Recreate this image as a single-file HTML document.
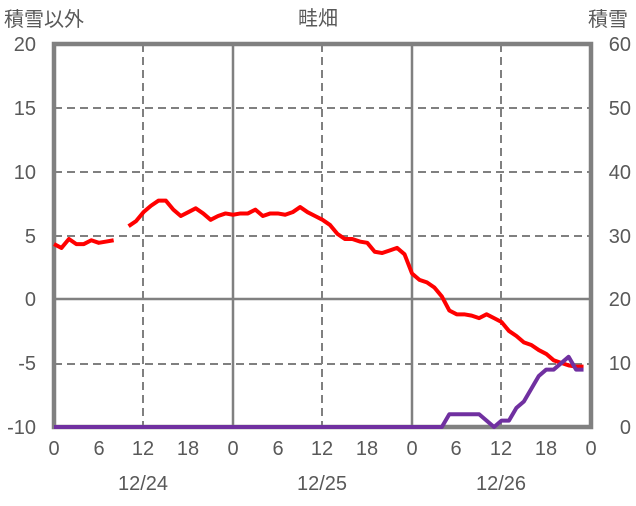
<!DOCTYPE html><html><head><meta charset="utf-8"><style>
body{margin:0;background:#fff;}
text{font-family:"Liberation Sans","Noto Sans CJK JP",sans-serif;fill:#595959;font-size:20px;}
</style></head><body>
<svg id="s" width="636" height="501" xmlns="http://www.w3.org/2000/svg">
<g stroke="#808080" stroke-width="2" stroke-dasharray="8,5">
<line x1="54" y1="108" x2="591" y2="108"/><line x1="54" y1="172" x2="591" y2="172"/>
<line x1="54" y1="236" x2="591" y2="236"/><line x1="54" y1="364" x2="591" y2="364"/>
<line x1="143" y1="44" x2="143" y2="427"/><line x1="322" y1="44" x2="322" y2="427"/><line x1="501" y1="44" x2="501" y2="427"/>
</g>
<g stroke="#808080" stroke-width="2.5">
<line x1="54" y1="299" x2="591" y2="299"/>
<line x1="233" y1="44" x2="233" y2="427"/><line x1="412" y1="44" x2="412" y2="427"/>
</g>
<rect x="54" y="44" width="537" height="383" fill="none" stroke="#808080" stroke-width="4.5"/>
<g text-anchor="end">
<text x="36" y="51">20</text><text x="36" y="115">15</text><text x="36" y="179">10</text>
<text x="36" y="243">5</text><text x="36" y="306">0</text><text x="36" y="370">-5</text><text x="36" y="434">-10</text>
</g>
<g text-anchor="end">
<text x="631" y="51">60</text><text x="631" y="115">50</text><text x="631" y="179">40</text>
<text x="631" y="243">30</text><text x="631" y="306">20</text><text x="631" y="370">10</text><text x="631" y="434">0</text>
</g>
<g text-anchor="middle">
<text x="54" y="455">0</text><text x="99" y="455">6</text><text x="143" y="455">12</text><text x="188" y="455">18</text>
<text x="233" y="455">0</text><text x="278" y="455">6</text><text x="322" y="455">12</text><text x="367" y="455">18</text>
<text x="412" y="455">0</text><text x="456" y="455">6</text><text x="501" y="455">12</text><text x="546" y="455">18</text>
<text x="591" y="455">0</text>
<text x="143" y="490">12/24</text><text x="322" y="490">12/25</text><text x="501" y="490">12/26</text>
<text x="318" y="25">畦畑</text>
</g>
<text x="4" y="26">積雪以外</text>
<text x="588" y="26">積雪</text>
</svg>
<script>
var r1=[4.3,4.0,4.7,4.3,4.3,4.6,4.4,4.5,4.6];
var r2=[5.7,6.1,6.8,7.3,7.7,7.7,7.0,6.5,6.8,7.1,6.7,6.2,6.5,6.7,6.6,6.7,6.7,7.0,6.5,6.7,6.7,6.6,6.8,7.2,6.8,6.5,6.2,5.8,5.1,4.7,4.7,4.5,4.4,3.7,3.6,3.8,4.0,3.5,2.0,1.5,1.3,0.9,0.2,-0.9,-1.2,-1.2,-1.3,-1.5,-1.2,-1.5,-1.8,-2.5,-2.9,-3.4,-3.6,-4.0,-4.3,-4.8,-5.0,-5.2,-5.3,-5.3];
var p=[];for(var i=0;i<72;i++)p.push(0);
var pv={53:2,54:2,55:2,56:2,57:2,58:1,59:0,60:1,61:1,62:3,63:4,64:6,65:8,66:9,67:9,68:10,69:11,70:9,71:9};
for(var k in pv)p[k]=pv[k];
function X(h){return 54+h*537/72;}
function pl(pts,c){var l=document.createElementNS("http://www.w3.org/2000/svg","polyline");l.setAttribute("points",pts.join(" "));l.setAttribute("fill","none");l.setAttribute("stroke",c);l.setAttribute("stroke-width","4");l.setAttribute("stroke-linejoin","round");document.getElementById("s").appendChild(l);}
pl(r1.map(function(v,i){return X(i)+","+(299-12.77*v)}),"#ff0000");
pl(r2.map(function(v,i){return X(i+10)+","+(299-12.77*v)}),"#ff0000");
pl(p.map(function(v,i){return X(i)+","+(427-6.38*v)}),"#7030a0");
</script>
</body></html>
